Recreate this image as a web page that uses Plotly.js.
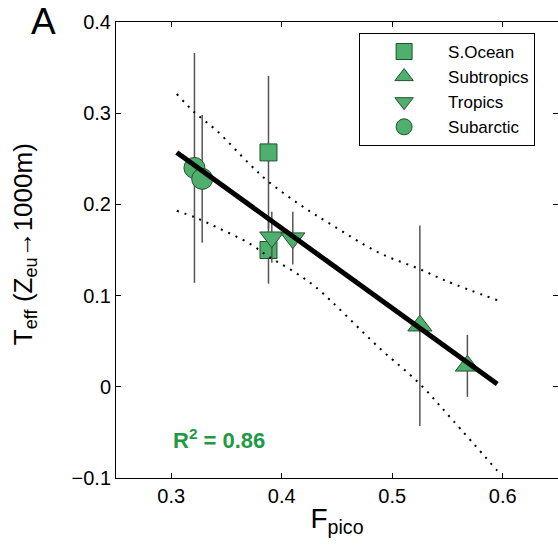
<!DOCTYPE html>
<html>
<head>
<meta charset="utf-8">
<script src="https://cdn.plot.ly/plotly-3.0.1.min.js"></script>
<style>html,body{margin:0;padding:0;background:#fff;}#chart{width:558px;height:552px;}</style>
</head>
<body>
<div id="chart"></div>
<script>
// ---- data ----
const sOceanX = [0.388, 0.388];
const sOceanY = [0.257, 0.150];
const sOceanErr = [0.084, 0.037];

const subtropicsX = [0.525, 0.568];
const subtropicsY = [0.067, 0.023];
const subtropicsErr = [0.110, 0.034];

const tropicsX = [0.391, 0.410];
const tropicsY = [0.164, 0.163];
const tropicsErr = [0.028, 0.029];

const subarcticX = [0.321, 0.328];
const subarcticY = [0.240, 0.228];
const subarcticErr = [0.126, 0.070];

const fitX = [0.305, 0.595];
const fitY = [0.257, 0.003];

const upperX = [0.305, 0.321, 0.341, 0.371, 0.387, 0.416, 0.446, 0.488, 0.525, 0.549, 0.595];
const upperY = [0.321, 0.301, 0.281, 0.244, 0.226, 0.200, 0.177, 0.147, 0.129, 0.116, 0.095];
const lowerX = [0.305, 0.321, 0.341, 0.371, 0.389, 0.410, 0.431, 0.488, 0.525, 0.555, 0.595];
const lowerY = [0.193, 0.186, 0.175, 0.157, 0.142, 0.127, 0.109, 0.043, 0.003, -0.037, -0.092];

const xTicks = [0.3, 0.4, 0.5, 0.6];
const xTickText = ["0.3", "0.4", "0.5", "0.6"];
const yTicks = [-0.1, 0, 0.1, 0.2, 0.3, 0.4];
const yTickText = ["\u22120.1", "0", "0.1", "0.2", "0.3", "0.4"];

const rSquared = "0.86";

// ---- styles ----
const FONT = "Liberation Sans, Arial, Helvetica, sans-serif";
const fill = "#4fb06d";
const edge = "#23502f";
const errStyle = (arr) => ({type: "data", array: arr, visible: true, color: "#555555", thickness: 1.5, width: 0});

function pts(name, x, y, err, symbol, size) {
  return {
    type: "scatter", mode: "markers", name: name, x: x, y: y,
    error_y: errStyle(err),
    marker: {symbol: symbol, size: size, color: fill, line: {color: edge, width: 1}}
  };
}

const data = [
  pts("S.Ocean", sOceanX, sOceanY, sOceanErr, "square", 17),
  pts("Subtropics", subtropicsX, subtropicsY, subtropicsErr, "triangle-up", 21),
  pts("Tropics", tropicsX, tropicsY, tropicsErr, "triangle-down", 21),
  pts("Subarctic", subarcticX, subarcticY, subarcticErr, "circle", 21),
  {type: "scatter", mode: "lines", x: upperX, y: upperY, showlegend: false, hoverinfo: "skip",
   line: {color: "black", width: 2, dash: "2px,6px", shape: "spline"}},
  {type: "scatter", mode: "lines", x: lowerX, y: lowerY, showlegend: false, hoverinfo: "skip",
   line: {color: "black", width: 2, dash: "2px,6px", shape: "spline"}},
  {type: "scatter", mode: "lines", x: fitX, y: fitY, showlegend: false, hoverinfo: "skip",
   line: {color: "black", width: 5}}
];

const axisCommon = {
  showgrid: false, zeroline: false, showline: true, linecolor: "black", linewidth: 1,
  mirror: "ticks", ticks: "inside", ticklen: 5, tickcolor: "black", tickwidth: 1,
  tickfont: {family: FONT, size: 20, color: "black"}
};

const layout = {
  width: 558, height: 552,
  margin: {l: 116, r: 0, t: 22, b: 74},
  paper_bgcolor: "white", plot_bgcolor: "white",
  font: {family: FONT, color: "black"},
  xaxis: Object.assign({}, axisCommon, {
    range: [0.25, 0.65], tickmode: "array", tickvals: xTicks, ticktext: xTickText,
    title: {text: "F<sub>pico</sub>", font: {family: FONT, size: 28, color: "black"}, standoff: 2}
  }),
  yaxis: Object.assign({}, axisCommon, {
    range: [-0.1, 0.4], tickmode: "array", tickvals: yTicks, ticktext: yTickText
  }),
  legend: {
    x: 0.55, y: 0.976, xanchor: "left", yanchor: "top",
    bgcolor: "white", bordercolor: "black", borderwidth: 1,
    font: {family: FONT, size: 17, color: "black"},
    itemwidth: 78, tracegroupgap: 0
  },
  annotations: [
    {xref: "paper", yref: "paper", x: -0.165, y: 1.002, xanchor: "center", yanchor: "middle",
     text: "A", showarrow: false, font: {family: FONT, size: 37, color: "black"}},
    {xref: "paper", yref: "paper", x: -0.208, y: 0.513, xanchor: "center", yanchor: "middle",
     textangle: -90, text: "T<sub>eff</sub> (Z<sub>eu</sub>\u21921000m)", showarrow: false,
     font: {family: FONT, size: 26, color: "black"}},
    {xref: "x", yref: "y", x: 0.3435, y: -0.057, xanchor: "center", yanchor: "middle",
     text: "<b>R<sup>2</sup> = " + rSquared + "</b>", showarrow: false,
     font: {family: FONT, size: 22, color: "#1f9a44"}}
  ],
  showlegend: true
};

Plotly.newPlot("chart", data, layout, {displayModeBar: false, staticPlot: true});
</script>
</body>
</html>
